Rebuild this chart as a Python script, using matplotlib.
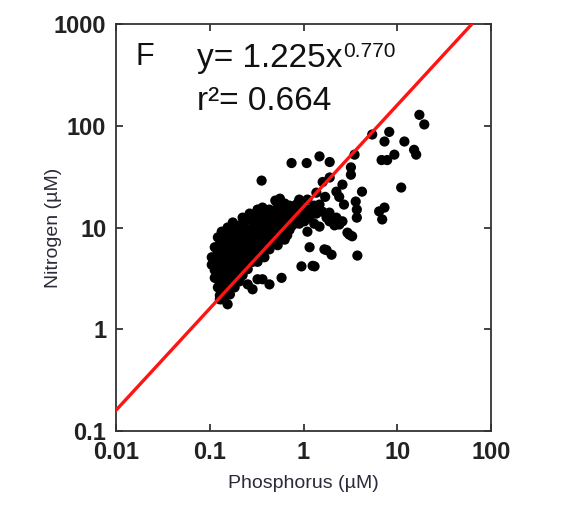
import numpy as np
import matplotlib.pyplot as plt
from matplotlib.ticker import FixedLocator, NullLocator

plt.rcParams['font.family'] = ['Liberation Sans', 'DejaVu Sans']

# Phosphorus / nitrogen pairs (µM), grouped by column
phosphorus = [
    0.105, 0.105,
    0.113, 0.113, 0.113, 0.113,
    0.122, 0.122, 0.122, 0.122, 0.122,
    0.128, 0.128, 0.128, 0.128, 0.128,
    0.134, 0.134, 0.134, 0.134, 0.134,
    0.144, 0.144, 0.144, 0.144, 0.144,
    0.155, 0.155, 0.155, 0.155, 0.155, 0.155,
    0.164, 0.164, 0.164, 0.164, 0.164,
    0.176, 0.176, 0.176, 0.176, 0.176,
    0.184, 0.184, 0.184, 0.184, 0.184,
    0.198, 0.198, 0.198, 0.198,
    0.208, 0.208, 0.208, 0.208, 0.208,
    0.224, 0.224, 0.224, 0.224, 0.224,
    0.235, 0.235, 0.235, 0.235,
    0.254, 0.254, 0.254, 0.254, 0.254, 0.254,
    0.266, 0.266, 0.266, 0.266,
    0.286, 0.286, 0.286, 0.286, 0.286,
    0.300, 0.300, 0.300, 0.300,
    0.323, 0.323, 0.323, 0.323, 0.323, 0.323,
    0.340, 0.340, 0.340,
    0.365, 0.365, 0.365, 0.365, 0.365, 0.365,
    0.383, 0.383, 0.383, 0.383,
    0.412, 0.412, 0.412,
    0.433, 0.433, 0.433, 0.433, 0.433,
    0.466, 0.466, 0.466,
    0.49, 0.49, 0.49,
    0.516,
    0.53, 0.53, 0.53, 0.53,
    0.56, 0.56, 0.56, 0.56,
    0.583, 0.583, 0.583,
    0.63, 0.63, 0.63, 0.63,
    0.67, 0.67, 0.67,
    0.71, 0.71, 0.71,
    0.76, 0.76, 0.76,
    0.80, 0.80,
    0.86, 0.86,
    0.90, 0.90, 0.90,
    0.95, 0.95,
    1.02, 1.02,
    1.10, 1.10, 1.10,
    1.16, 1.16,
    1.25, 1.25,
    1.30, 1.30,
    1.37, 1.37,
    1.48, 1.48,
    1.59,
    1.76, 1.76,
    1.89, 1.89,
    1.99,
    2.14,
    2.24, 2.24,
    2.41,
    2.60, 2.60,
    2.94,
    3.08,
    # scattered points above / right of the main cloud
    19.4, 17.2, 5.4, 8.2, 7.3, 11.9, 15.1, 15.9, 9.3, 6.8, 7.8, 3.5,
    1.48, 1.9, 3.2, 3.2, 1.6, 1.9, 11.0, 4.2, 1.7, 2.4, 3.6, 2.7,
    3.7, 3.7, 6.4, 7.3, 6.9, 3.3, 1.67, 3.75, 0.745, 1.08, 0.357, 0.50,
    1.31,
]
nitrogen = [
    5.1, 4.3,
    6.4, 4.6, 3.8, 3.2,
    8.0, 5.8, 4.05, 3.1, 2.58,
    6.8, 5.1, 3.5, 2.15, 1.97,
    9.1, 6.1, 4.4, 2.83, 1.97,
    7.6, 5.3, 3.9, 2.47, 2.06,
    10.0, 6.7, 4.6, 3.2, 2.58, 1.76,
    8.4, 5.8, 4.05, 2.83, 2.2,
    11.2, 7.3, 5.1, 3.5, 2.96,
    9.5, 6.4, 4.4, 3.2, 2.58,
    8.4, 5.6, 4.05, 3.4,
    10.5, 7.0, 4.9, 3.7, 2.96,
    12.5, 8.7, 6.1, 4.4, 3.4,
    10.0, 7.3, 5.3, 4.05,
    12.0, 8.4, 6.4, 4.6, 3.9, 2.76,
    13.7, 9.5, 7.0, 5.3,
    11.5, 8.0, 6.1, 4.6, 2.47,
    13.1, 9.1, 6.7, 5.1,
    15.0, 10.5, 7.6, 5.8, 4.6, 3.1,
    12.0, 8.7, 6.7,
    15.7, 13.7, 10.0, 7.3, 5.6, 3.1,
    11.2, 8.4, 6.4, 5.1,
    13.1, 9.5, 7.0,
    15.0, 10.5, 8.0, 6.1, 2.76,
    12.0, 9.1, 7.0,
    13.7, 10.2, 7.6,
    18.0,
    15.7, 11.5, 8.7, 6.7,
    19.2, 13.1, 10.0, 7.6,
    15.0, 11.5, 3.2,
    17.2, 12.5, 9.5, 7.6,
    14.3, 10.9, 8.4,
    16.4, 12.5, 9.5,
    16.1, 13.7, 10.5,
    15.0, 11.5,
    17.2, 13.1,
    18.8, 14.3, 10.9,
    15.7, 4.15,
    13.4, 11.5,
    18.8, 15.0, 9.1,
    12.5, 6.4,
    14.3, 4.2,
    16.4, 10.9,
    22.0, 13.7,
    16.8, 10.2,
    14.3,
    12.5, 6.0,
    14.0, 11.5,
    5.4,
    10.5,
    12.5, 22.5,
    10.7,
    11.5, 26.4,
    8.9,
    8.5,
    103, 128, 82, 87, 70, 70, 58, 52, 52, 46, 46, 52,
    50, 44, 39, 33, 28, 31, 24.7, 22.5, 20, 20, 18, 16.8,
    15, 12.5, 14.4, 15.7, 12, 8.2, 6.1, 5.3, 43, 43, 28.9, 18.4,
    4.15,
]

redfield = 16          # N:P reference line drawn in red
x_ticks = [0.01, 0.1, 1, 10, 100]
x_labels = ['0.01', '0.1', '1', '10', '100']
y_ticks = [0.1, 1, 10, 100, 1000]
y_labels = ['0.1', '1', '10', '100', '1000']

fig = plt.figure(figsize=(5.64, 5.05), dpi=100)
ax = fig.add_axes([0.2057, 0.1465, 0.665, 0.806])

ax.scatter(phosphorus, nitrogen, s=54, c='black', edgecolors='none', zorder=2)

line_x = np.array([0.01, 100.0])
ax.plot(line_x, redfield * line_x, color='#ff1414', lw=2.4, zorder=3)

ax.set_xscale('log')
ax.set_yscale('log')
ax.set_xlim(0.01, 100)
ax.set_ylim(0.1, 1000)

ax.xaxis.set_major_locator(FixedLocator(x_ticks))
ax.yaxis.set_major_locator(FixedLocator(y_ticks))
ax.xaxis.set_minor_locator(NullLocator())
ax.yaxis.set_minor_locator(NullLocator())
ax.set_xticklabels(x_labels, fontweight='bold')
ax.set_yticklabels(y_labels, fontweight='bold')
ax.tick_params(which='major', direction='in', top=True, right=True,
               length=5, width=1.2, labelsize=17, pad=7, colors='#222222')

for sp in ax.spines.values():
    sp.set_linewidth(1.3)
    sp.set_color('#333333')

ax.set_xlabel('Phosphorus (µM)', fontsize=14, color='#2a2a3a', labelpad=8)
ax.set_ylabel('Nitrogen (µM)', fontsize=14, color='#2a2a3a')
ax.yaxis.set_label_coords(-0.145, 0.5)

# panel letter and fit annotation
fig.text(135 / 564, 1 - 65 / 505, 'F', fontsize=22, va='baseline', color='#111111')
fig.text(197 / 564, 1 - 67 / 505, 'y= 1.225x', fontsize=24, va='baseline', color='#111111')
fig.text(343 / 564, 1 - 57 / 505, '0.770', fontsize=15, va='baseline', color='#111111')
fig.text(197 / 564, 1 - 110 / 505, 'r²= 0.664', fontsize=24, va='baseline', color='#111111')

fig.savefig('out.png', dpi=100)
